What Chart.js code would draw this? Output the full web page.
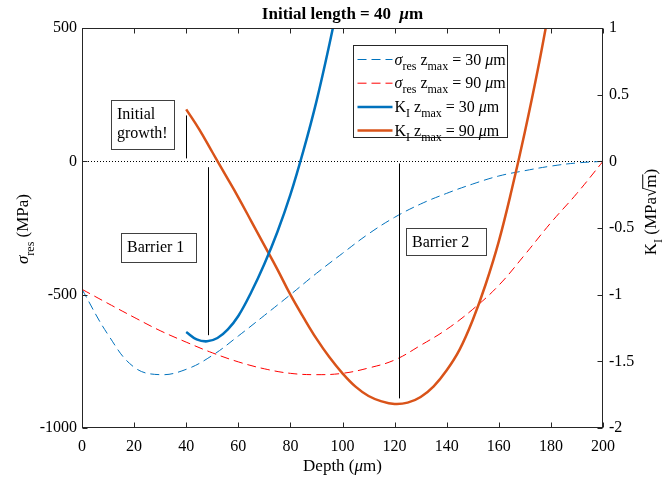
<!DOCTYPE html>
<html>
<head>
<meta charset="utf-8">
<title>Initial length = 40 μm</title>
<script src="https://cdn.jsdelivr.net/npm/chart.js@4/dist/chart.umd.min.js"></script>
<style>
  html, body { margin: 0; padding: 0; background: #fff; }
  canvas { display: block; }
</style>
</head>
<body>
<canvas id="grafico" width="663" height="478"></canvas>
<script>
// residual stress profiles, MPa, every 10 µm
const depthSigma = [0, 10, 20, 30, 40, 50, 60, 70, 80, 90, 100, 110, 120, 130, 140, 150, 160, 170, 180, 190, 200];
const sigma30 = [-480, -650, -772, -800, -780, -728, -655, -578, -500, -420, -345, -272, -210, -160, -120, -85, -55, -35, -18, -6, 0];
const sigma90 = [-480, -533, -585, -635, -678, -718, -752, -778, -795, -800, -795, -775, -745, -690, -630, -555, -465, -350, -230, -120, 0];

// stress intensity factor, MPa√m
const depthK30 = [40, 44, 48, 52, 56, 60, 65, 70, 75, 80, 85, 90, 95, 100];
const k30 = [-1.28, -1.335, -1.35, -1.325, -1.26, -1.16, -0.98, -0.77, -0.53, -0.25, 0.08, 0.45, 0.88, 1.35];
const depthK90 = [40, 45, 50, 55, 60, 65, 70, 75, 80, 85, 90, 95, 100, 105, 110, 115, 120, 125, 130, 135, 140, 145, 150, 155, 160, 165, 170, 175, 180];
const k90 = [0.39, 0.24, 0.07, -0.10, -0.27, -0.45, -0.63, -0.81, -1.0, -1.17, -1.33, -1.47, -1.59, -1.69, -1.76, -1.80, -1.82, -1.81, -1.767, -1.687, -1.567, -1.41, -1.19, -0.92, -0.60, -0.21, 0.22, 0.69, 1.21];

const xTicks = [0, 20, 40, 60, 80, 100, 120, 140, 160, 180, 200];
const sigmaTicks = [-1000, -500, 0, 500];
const kTicks = [-2, -1.5, -1, -0.5, 0, 0.5, 1];

const azul = '#0072BD';
const laranja = '#D95319';
const vermelho = '#FF0000';
const eixo = '#262626';
const serif = '"Liberation Serif", "DejaVu Serif", serif';
const tracejado = [9, 5];

const pontos = (xs, ys) => xs.map((x, i) => ({ x: x, y: ys[i] }));

// marcas de anotação (profundidade, tensão)
const marcas = [
  { x: 40, y1: 172, y2: 11 },
  { x: 48.4, y1: -22, y2: -652 },
  { x: 121.7, y1: -8, y2: -889 }
];
const caixas = [
  { linhas: ['Initial', 'growth!'], x: 11.1, y: 229, w: 63, h: 49 },
  { linhas: ['Barrier 1'], x: 15.0, y: -270, w: 75, h: 29 },
  { linhas: ['Barrier 2'], x: 124.4, y: -251, w: 80, h: 27 }
];

function fonte(p, tam, peso) {
  let f = '';
  if (p.i) f += 'italic ';
  if (peso) f += peso + ' ';
  return f + (p.sub ? Math.round(tam * 0.72) : tam) + 'px ' + serif;
}

function larguraRica(c, partes, tam, peso) {
  let w = 0;
  partes.forEach(p => { c.font = fonte(p, tam, peso); w += c.measureText(p.t).width; });
  return w;
}

function textoRico(c, partes, x, y, tam, peso) {
  c.textAlign = 'left';
  c.textBaseline = 'alphabetic';
  partes.forEach(p => {
    c.font = fonte(p, tam, peso);
    const dy = p.sub ? tam * 0.33 : 0;
    c.fillText(p.t, x, y + dy);
    const w = c.measureText(p.t).width;
    if (p.barra) {
      c.beginPath();
      c.lineWidth = 1;
      c.moveTo(x - 1, y - tam * 0.78);
      c.lineTo(x + w, y - tam * 0.78);
      c.stroke();
    }
    x += w;
  });
  return x;
}

const itensLegenda = [
  { cor: azul, traco: tracejado, largura: 1, partes: [{ t: 'σ', i: true }, { t: 'res', sub: true }, { t: ' z' }, { t: 'max', sub: true }, { t: ' = 30 ' }, { t: 'μ', i: true }, { t: 'm' }] },
  { cor: vermelho, traco: tracejado, largura: 1, partes: [{ t: 'σ', i: true }, { t: 'res', sub: true }, { t: ' z' }, { t: 'max', sub: true }, { t: ' = 90 ' }, { t: 'μ', i: true }, { t: 'm' }] },
  { cor: azul, traco: [], largura: 2.5, partes: [{ t: 'K' }, { t: 'I', sub: true }, { t: ' z' }, { t: 'max', sub: true }, { t: ' = 30 ' }, { t: 'μ', i: true }, { t: 'm' }] },
  { cor: laranja, traco: [], largura: 2.5, partes: [{ t: 'K' }, { t: 'I', sub: true }, { t: ' z' }, { t: 'max', sub: true }, { t: ' = 90 ' }, { t: 'μ', i: true }, { t: 'm' }] }
];

const extras = {
  id: 'extras',
  beforeDatasetsDraw(chart) {
    const c = chart.ctx, a = chart.chartArea, sy = chart.scales.y;
    // linha pontilhada em zero
    c.save();
    c.strokeStyle = '#000';
    c.lineWidth = 1;
    c.setLineDash([1, 2]);
    const y0 = Math.round(sy.getPixelForValue(0)) + 0.5;
    c.beginPath();
    c.moveTo(a.left, y0);
    c.lineTo(a.right, y0);
    c.stroke();
    c.restore();
  },
  afterDatasetsDraw(chart) {
    const c = chart.ctx, a = chart.chartArea, sx = chart.scales.x, sy = chart.scales.y, sk = chart.scales.y2;
    c.save();
    c.fillStyle = '#000';
    c.strokeStyle = '#000';
    c.lineWidth = 1;
    marcas.forEach(m => {
      const x = Math.round(sx.getPixelForValue(m.x)) + 0.5;
      c.beginPath();
      c.moveTo(x, sy.getPixelForValue(m.y1));
      c.lineTo(x, sy.getPixelForValue(m.y2));
      c.stroke();
    });

    // caixas de texto
    caixas.forEach(b => {
      const x = Math.round(sx.getPixelForValue(b.x)) + 0.5;
      const y = Math.round(sy.getPixelForValue(b.y)) + 0.5;
      c.fillStyle = '#fff';
      c.fillRect(x, y, b.w, b.h);
      c.strokeStyle = '#404040';
      c.strokeRect(x, y, b.w, b.h);
      c.fillStyle = '#000';
      c.font = '16px ' + serif;
      c.textAlign = 'left';
      c.textBaseline = 'alphabetic';
      b.linhas.forEach((t, i) => c.fillText(t, x + 5.5, y + 18.5 + i * 19));
    });

    // moldura e marcas de escala para dentro
    c.strokeStyle = eixo;
    c.lineWidth = 1;
    const L = Math.round(a.left) + 0.5, R = Math.round(a.right) - 0.5;
    const T = Math.round(a.top) + 0.5, B = Math.round(a.bottom) - 0.5;
    c.strokeRect(L, T, R - L, B - T);
    c.beginPath();
    xTicks.forEach(v => {
      const x = Math.round(sx.getPixelForValue(v)) + 0.5;
      c.moveTo(x, B); c.lineTo(x, B - 5);
      c.moveTo(x, T); c.lineTo(x, T + 5);
    });
    sigmaTicks.forEach(v => {
      const y = Math.round(sy.getPixelForValue(v)) + 0.5;
      c.moveTo(L, y); c.lineTo(L + 5, y);
    });
    kTicks.forEach(v => {
      const y = Math.round(sk.getPixelForValue(v)) + 0.5;
      c.moveTo(R, y); c.lineTo(R - 5, y);
    });
    c.stroke();

    // legenda
    const lx = a.right - 249.5, ly = a.top + 17.5, lw = 154, lh = 92;
    c.fillStyle = '#fff';
    c.fillRect(lx, ly, lw, lh);
    c.strokeStyle = eixo;
    c.strokeRect(lx, ly, lw, lh);
    itensLegenda.forEach((it, i) => {
      const yy = ly + 14 + i * 23.7;
      c.save();
      c.strokeStyle = it.cor;
      c.lineWidth = it.largura;
      c.setLineDash(it.traco);
      c.beginPath();
      c.moveTo(lx + 4, yy);
      c.lineTo(lx + 39, yy);
      c.stroke();
      c.restore();
      c.fillStyle = '#000';
      textoRico(c, it.partes, lx + 41, yy + 5, 16);
    });

    // título
    const titulo = [{ t: 'Initial length = 40  ' }, { t: 'μ', i: true }, { t: 'm' }];
    const tw = larguraRica(c, titulo, 17, 'bold');
    textoRico(c, titulo, (a.left + a.right) / 2 - tw / 2, 19, 17, 'bold');

    // rótulo do eixo x
    const rx = [{ t: 'Depth (' }, { t: 'μ', i: true }, { t: 'm)' }];
    const rw = larguraRica(c, rx, 17);
    textoRico(c, rx, (a.left + a.right) / 2 - rw / 2, 471, 17);

    // rótulo esquerdo
    const re = [{ t: 'σ', i: true }, { t: 'res', sub: true }, { t: ' (MPa)' }];
    const ew = larguraRica(c, re, 17);
    c.save();
    c.translate(28, 229);
    c.rotate(-Math.PI / 2);
    textoRico(c, re, -ew / 2, 0, 17);
    c.restore();

    // rótulo direito
    const rd = [{ t: 'K' }, { t: 'I', sub: true }, { t: ' (MPa' }, { t: '√' }, { t: 'm', barra: true }, { t: ')' }];
    const dw = larguraRica(c, rd, 17);
    c.save();
    c.translate(656, 212);
    c.rotate(-Math.PI / 2);
    c.strokeStyle = '#000';
    textoRico(c, rd, -dw / 2, 0, 17);
    c.restore();
    c.restore();
  }
};

const fonteEscala = { family: serif, size: 16 };
const semGrade = { display: false, drawTicks: false };

new Chart(document.getElementById('grafico').getContext('2d'), {
  type: 'line',
  data: {
    datasets: [
      { label: 'K_I z_max = 30 µm', data: pontos(depthK30, k30), yAxisID: 'y2', borderColor: azul, borderWidth: 2.5, order: 0 },
      { label: 'K_I z_max = 90 µm', data: pontos(depthK90, k90), yAxisID: 'y2', borderColor: laranja, borderWidth: 2.5, order: 1 },
      { label: 'σ_res z_max = 90 µm', data: pontos(depthSigma, sigma90), yAxisID: 'y', borderColor: vermelho, borderWidth: 1, borderDash: tracejado, order: 2 },
      { label: 'σ_res z_max = 30 µm', data: pontos(depthSigma, sigma30), yAxisID: 'y', borderColor: azul, borderWidth: 1, borderDash: tracejado, order: 3 }
    ]
  },
  options: {
    responsive: false,
    animation: false,
    layout: { padding: { top: 28, left: 0, right: 0, bottom: 0 } },
    elements: {
      point: { radius: 0 },
      line: { tension: 0.4, fill: false }
    },
    plugins: {
      legend: { display: false },
      tooltip: { enabled: false }
    },
    scales: {
      x: {
        type: 'linear', min: 0, max: 200,
        grid: semGrade, border: { display: false },
        ticks: { stepSize: 20, autoSkip: false, maxRotation: 0, padding: 9, color: '#000', font: fonteEscala, callback: v => String(v) },
        afterFit: s => { s.height = 50; }
      },
      y: {
        position: 'left', min: -1000, max: 500,
        grid: semGrade, border: { display: false },
        ticks: { stepSize: 500, autoSkip: false, padding: 5, color: '#000', font: fonteEscala, callback: v => String(v) },
        afterFit: s => { s.width = 82; }
      },
      y2: {
        position: 'right', min: -2, max: 1,
        grid: semGrade, border: { display: false },
        ticks: { stepSize: 0.5, autoSkip: false, padding: 6, color: '#000', font: fonteEscala, callback: v => String(v) },
        afterFit: s => { s.width = 60; }
      }
    }
  },
  plugins: [extras]
});
</script>
</body>
</html>
